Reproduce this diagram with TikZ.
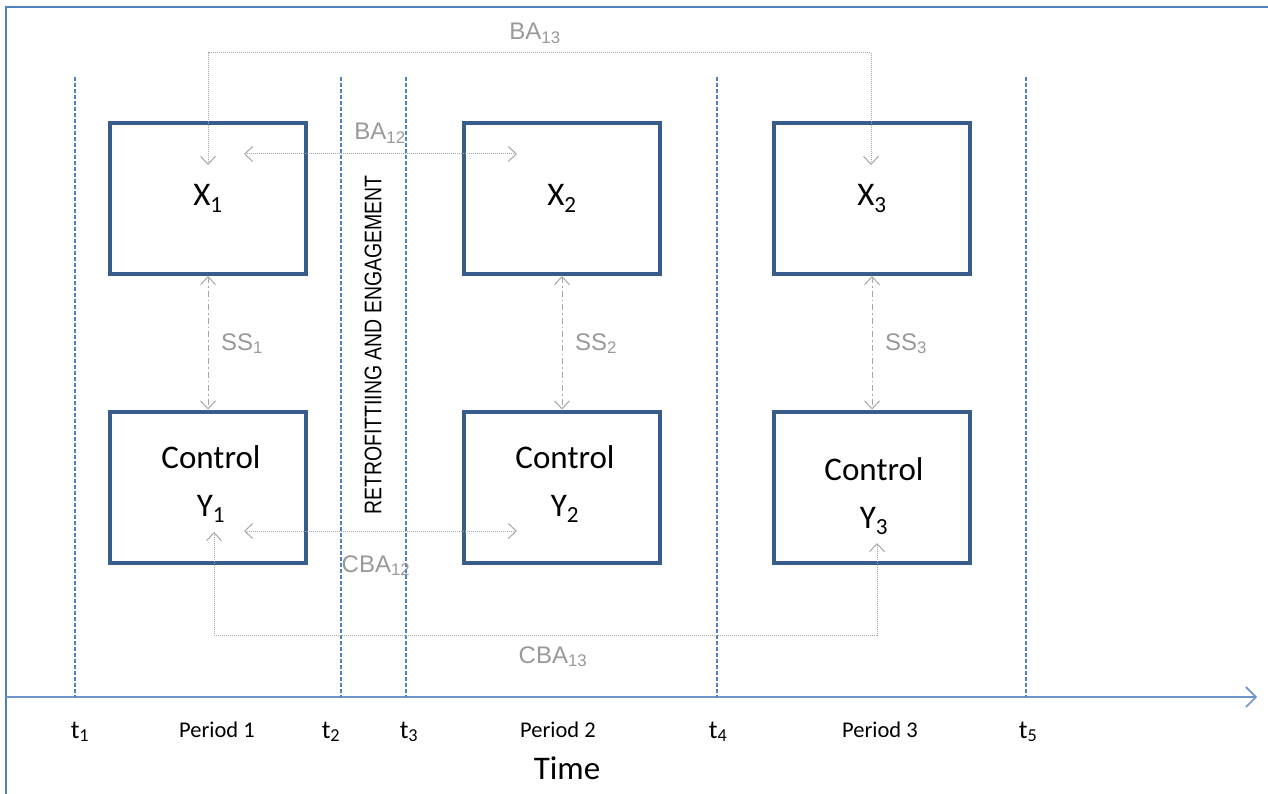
\documentclass[tikz,border=0pt]{standalone}
\usepackage{fontspec}
\setmainfont{Carlito}
\newfontfamily\arialf{Liberation Sans}
\usetikzlibrary{arrows.meta,calc}
\definecolor{frameblue}{HTML}{4F81BD}
\definecolor{axisblue}{HTML}{6F95C8}
\definecolor{boxblue}{HTML}{385D8A}
\definecolor{lgray}{HTML}{A6A6A6}
\definecolor{tgray}{HTML}{999999}
\begin{document}
\begin{tikzpicture}[x=1pt,y=-1pt,
  box/.style={draw=boxblue,line width=4pt,minimum width=196pt,minimum height=151pt,inner sep=0pt,font=\fontsize{33}{38}\selectfont},
  ctext/.style={align=center,font=\fontsize{33}{48}\selectfont,inner sep=0pt},
  glabel/.style={text=tgray,font=\arialf\fontsize{24}{28}\selectfont,anchor=base,inner sep=0pt},
  tlabel/.style={font=\fontsize{26}{30}\selectfont,anchor=base,inner sep=0pt},
  plabel/.style={font=\fontsize{22.5}{26}\selectfont,anchor=base,inner sep=0pt},
  tickline/.style={draw=frameblue,line width=1.1pt,dash pattern=on 4pt off 2pt},
  dotline/.style={draw=lgray,line width=1pt,dash pattern=on 1pt off 1pt},
  ssline/.style={draw=lgray,line width=1pt,dash pattern=on 6pt off 3pt on 1.5pt off 3pt},
  tip/.tip={Straight Barb[length=8pt,width=15pt]}
]
\useasboundingbox (0,0) rectangle (1268,794);
% frame
\draw[frameblue,line width=2.5pt] (6,794) -- (6,7) -- (1268,7);
% time axis
\coordinate (axs) at (6,697);
\coordinate (axe) at (1257,697);
\draw[axisblue,line width=1.6pt,-{Straight Barb[length=10pt,width=20pt]}] (axs) -- (axe);
% dashed time lines
\foreach \n/\x in {1/75,2/341,3/406,4/717,5/1026}{
  \coordinate (tt\n) at (\x,77);
  \coordinate (tb\n) at (\x,697);
  \draw[tickline] (tt\n) -- (tb\n);
}
% boxes
\node[box] (X1) at (208,198.5) {X\textsubscript{1}};
\node[box] (X2) at (562,198.5) {X\textsubscript{2}};
\node[box] (X3) at (872,198.5) {X\textsubscript{3}};
\node[box] (C1) at (208,487) {};
\node[box] (C2) at (562,487) {};
\node[box] (C3) at (872,487) {};
\node[ctext] (CT1) at (211,484) {Control\\Y\textsubscript{1}};
\node[ctext] (CT2) at (565,484) {Control\\Y\textsubscript{2}};
\node[ctext] (CT3) at (874,496) {Control\\Y\textsubscript{3}};
% SS arrows
\draw[ssline,tip-tip] (X1.south) -- (C1.north);
\draw[ssline,tip-tip] (X2.south) -- (C2.north);
\draw[ssline,tip-tip] (X3.south) -- (C3.north);
\node[glabel] (SS1) at (242,350) {SS\textsubscript{1}};
\node[glabel] (SS2) at (596,350) {SS\textsubscript{2}};
\node[glabel] (SS3) at (906,350) {SS\textsubscript{3}};
% BA13
\coordinate (ba13a) at (208,165);
\coordinate (ba13b) at (871,165);
\draw[dotline,tip-tip] (ba13a) -- (208,53) -- (871,53) -- (ba13b);
\node[glabel] (BA13) at (535,40) {BA\textsubscript{13}};
% BA12
\coordinate (ba12a) at (244,154);
\coordinate (ba12b) at (517,154);
\draw[dotline,tip-tip] (ba12a) -- (ba12b);
\node[glabel] (BA12) at (380,140) {BA\textsubscript{12}};
% CBA12
\coordinate (cba12a) at (244,531);
\coordinate (cba12b) at (517,531);
\draw[dotline,tip-tip] (cba12a) -- (cba12b);
\node[glabel] (CBA12) at (376,572) {CBA\textsubscript{12}};
% CBA13
\coordinate (cba13a) at (214,532);
\coordinate (cba13b) at (877,543);
\draw[dotline,tip-tip] (cba13a) -- (214,635) -- (877,635) -- (cba13b);
\node[glabel] (CBA13) at (553,663) {CBA\textsubscript{13}};
% retrofitting
\node[rotate=90,inner sep=0pt,font=\arialf\fontsize{24}{28}\selectfont] (RET) at (373,345) {\scalebox{0.81}[1]{RETROFITTIING AND ENGAGEMENT}};
% time labels
\node[tlabel] (T1) at (80,738) {t\textsubscript{1}};
\node[tlabel] (T2) at (331,738) {t\textsubscript{2}};
\node[tlabel] (T3) at (409,738) {t\textsubscript{3}};
\node[tlabel] (T4) at (718,738) {t\textsubscript{4}};
\node[tlabel] (T5) at (1028,738) {t\textsubscript{5}};
\node[plabel] (P1) at (217,737) {Period 1};
\node[plabel] (P2) at (558,737) {Period 2};
\node[plabel] (P3) at (880,737) {Period 3};
\node[anchor=base,inner sep=0pt,font=\fontsize{33}{38}\selectfont] (TIME) at (567,779) {Time};
\end{tikzpicture}
\end{document}
